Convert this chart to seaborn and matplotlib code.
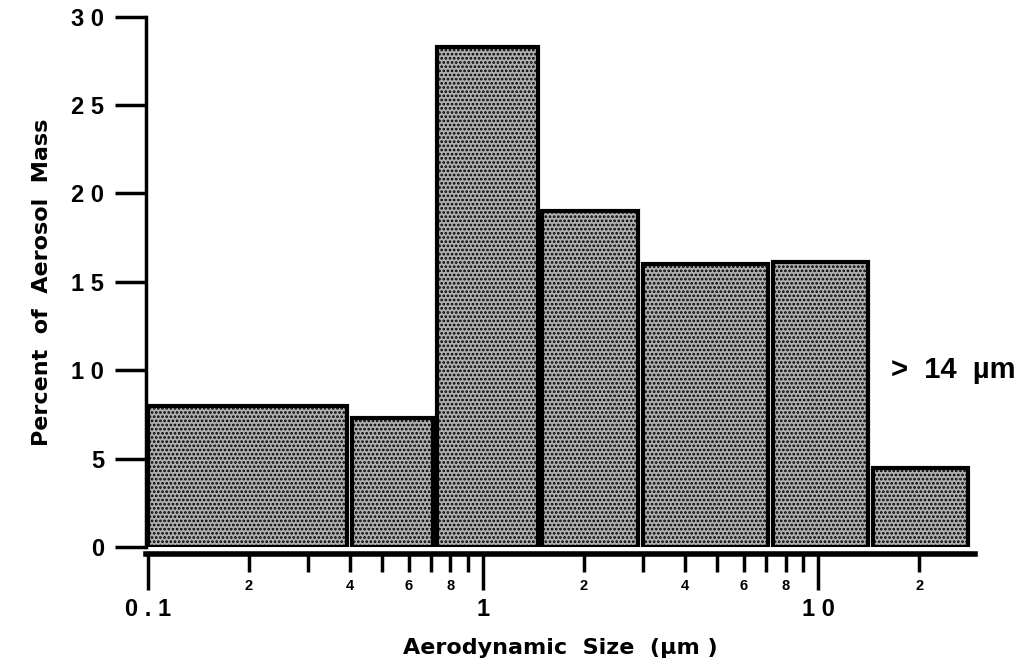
import numpy as np
import matplotlib
matplotlib.use("Agg")
import matplotlib.pyplot as plt
import seaborn as sns

# Size bins (um) and percent of aerosol mass per bin
bin_edges = [0.1, 0.4, 0.72, 1.48, 2.95, 7.2, 14.3, 28.0]
mass_pct = [8.0, 7.3, 28.3, 19.0, 16.0, 16.1, 4.5]

y_ticks = [0, 5, 10, 15, 20, 25, 30]
y_labels = ["0", "5", "1 0", "1 5", "2 0", "2 5", "3 0"]
x_major = [0.1, 1, 10]
x_major_labels = ["0 . 1", "1", "1 0"]

sns.set_theme(style="ticks")
plt.rcParams['font.family'] = ['Liberation Sans', 'DejaVu Sans']
plt.rcParams['hatch.linewidth'] = 1.3
plt.rcParams['text.color'] = 'black'

fig = plt.figure(figsize=(10.33, 6.68), dpi=100)
ax = fig.add_axes([0.141, 0.181, 0.803, 0.794])

# bin midpoints (geometric) used as samples, weighted by mass
mids = np.sqrt(np.array(bin_edges[:-1]) * np.array(bin_edges[1:]))
sns.histplot(x=mids, weights=mass_pct, bins=bin_edges, ax=ax,
             color="#b0b0b0", alpha=1, edgecolor="black", linewidth=3)
ax.set_xscale("log")
# small white gap between neighbouring bars, as in the printed figure
gap = 10 ** 0.007
for p in ax.patches:
    x0, w = p.get_x(), p.get_width()
    x1 = x0 + w
    if x0 > bin_edges[0] * 1.01:
        x0 *= gap
    if x1 < bin_edges[-1] * 0.99:
        x1 /= gap
    p.set_x(x0)
    p.set_width(x1 - x0)
    p.set_hatch("....")
    p.set_edgecolor("black")

ax.set_xlim(0.0986, 29.4)
ax.set_ylim(0, 30)

ax.spines['top'].set_visible(False)
ax.spines['right'].set_visible(False)
ax.spines['left'].set_linewidth(2.5)
ax.spines['left'].set_color('black')
ax.spines['bottom'].set_linewidth(4)
ax.spines['bottom'].set_color('black')
ax.spines['bottom'].set_position(('outward', 5))

ax.set_yticks(y_ticks)
ax.set_yticklabels(y_labels, fontsize=17, fontweight='bold')
ax.tick_params(axis='y', direction='out', length=22, width=2.5, pad=8,
               color='black', labelcolor='black')

minor = [m * d for d in [0.1, 1, 10] for m in range(2, 10) if m * d < 29]
minor_labels = []
for v in minor:
    m = round(v / 10 ** np.floor(np.log10(v) + 1e-9))
    minor_labels.append(str(m) if m in (2, 4, 6, 8) else "")
ax.set_xticks(x_major)
ax.set_xticklabels(x_major_labels, fontsize=17, fontweight='bold')
ax.set_xticks(minor, minor=True)
ax.set_xticklabels(minor_labels, minor=True, fontsize=10.5, fontweight='bold')
ax.tick_params(axis='x', which='major', direction='out', length=26, width=2.5, pad=6,
               color='black', labelcolor='black')
ax.tick_params(axis='x', which='minor', direction='out', length=13, width=2.5, pad=5,
               color='black', labelcolor='black')

ax.set_ylabel("Percent  of  Aerosol  Mass", fontsize=16, fontweight='bold',
              family=['DejaVu Sans'], labelpad=14, color='black')
ax.set_xlabel("Aerodynamic  Size  (\u00b5m )", fontsize=16, fontweight='bold',
              family=['DejaVu Sans'], labelpad=12, color='black')

ax.text(16.5, 10.0, ">  14  \u00b5m", fontsize=21, fontweight='bold', color='black',
        ha='left', va='center')

fig.savefig("out.png", dpi=100)
